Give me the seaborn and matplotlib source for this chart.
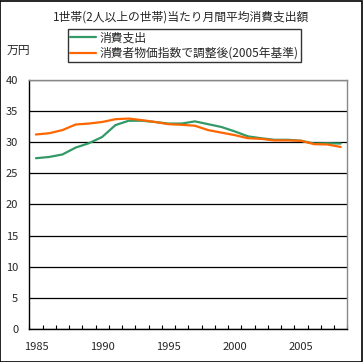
import matplotlib
matplotlib.use("Agg")
import matplotlib.pyplot as plt
import seaborn as sns
import pandas as pd
from matplotlib.patches import Rectangle
from matplotlib.ticker import FixedLocator
from matplotlib.lines import Line2D

years = list(range(1985, 2009))
spending = [27.4, 27.6, 28.0, 29.1, 29.8, 30.8, 32.7, 33.4, 33.4, 33.2, 32.95, 32.95,
            33.3, 32.85, 32.4, 31.7, 30.9, 30.6, 30.35, 30.35, 30.2, 29.75, 29.8, 29.75]
adjusted = [31.2, 31.4, 31.9, 32.8, 32.95, 33.2, 33.65, 33.75, 33.5, 33.2, 32.85, 32.75,
            32.6, 31.9, 31.5, 31.1, 30.6, 30.5, 30.25, 30.25, 30.2, 29.65, 29.6, 29.2]
series_names = ["消費支出", "消費者物価指数で調整後(2005年基準)"]
title = "1世帯(2人以上の世帯)当たり月間平均消費支出額"
unit_label = "万円"
y_ticks = [0, 5, 10, 15, 20, 25, 30, 35, 40]
x_label_years = [1985, 1990, 1995, 2000, 2005]

sns.set_theme(style="white")
plt.rcParams['font.family'] = ['Noto Sans CJK JP', 'DejaVu Sans']

df = pd.DataFrame({
    "idx": list(range(len(years))) * 2,
    "value": spending + adjusted,
    "series": [series_names[0]] * len(years) + [series_names[1]] * len(years),
})

fig = plt.figure(figsize=(3.63, 3.62), dpi=100)
ax = fig.add_axes([0.0807, 0.0903, 0.876, 0.690])
sns.lineplot(data=df, x="idx", y="value", hue="series",
             palette=["#339966", "#FF6600"], linewidth=1.6, ax=ax, legend=False)

ax.set_xlim(-0.5, len(years) - 0.5)
ax.set_ylim(0, 40)
ax.set_yticks(y_ticks)
ax.set_yticklabels([str(v) for v in y_ticks], fontsize=8)
ax.yaxis.grid(True, color="black", linewidth=0.9)
ax.set_axisbelow(True)
ax.tick_params(axis="y", length=0, pad=8)

pos = [years.index(y) for y in x_label_years]
ax.set_xticks(pos)
ax.set_xticklabels([str(y) for y in x_label_years], fontsize=8)
ax.tick_params(axis="x", which="major", length=0, pad=9)
ax.xaxis.set_minor_locator(FixedLocator([i - 0.5 for i in range(len(years) + 1)]))
ax.tick_params(axis="x", which="minor", direction="in", length=3, width=0.8,
               color="black", bottom=True)
ax.set_xlabel("")
ax.set_ylabel("")

for s in ["top", "right"]:
    ax.spines[s].set_color("#888888")
    ax.spines[s].set_linewidth(1)
for s in ["left", "bottom"]:
    ax.spines[s].set_color("black")
    ax.spines[s].set_linewidth(1)

fig.text(0.5, 0.953, title, ha="center", va="center", fontsize=8.5)
fig.text(0.018, 0.862, unit_label, ha="left", va="center", fontsize=8.5)

handles = [Line2D([], [], color="#339966", linewidth=1.6),
           Line2D([], [], color="#FF6600", linewidth=1.6)]
leg = fig.legend(handles, series_names, loc="upper left",
                 bbox_to_anchor=(68 / 363, 1 - 29 / 362), fontsize=8.5,
                 frameon=True, fancybox=False, handlelength=2.2, handletextpad=0.3,
                 borderpad=0.2, labelspacing=0.2, borderaxespad=0)
leg.get_frame().set_edgecolor("black")
leg.get_frame().set_linewidth(1)

fig.patches.append(Rectangle((0.001, 0.001), 0.997, 0.997, transform=fig.transFigure,
                             fill=False, edgecolor="black", linewidth=1.2))

fig.savefig("out.png", dpi=100)
